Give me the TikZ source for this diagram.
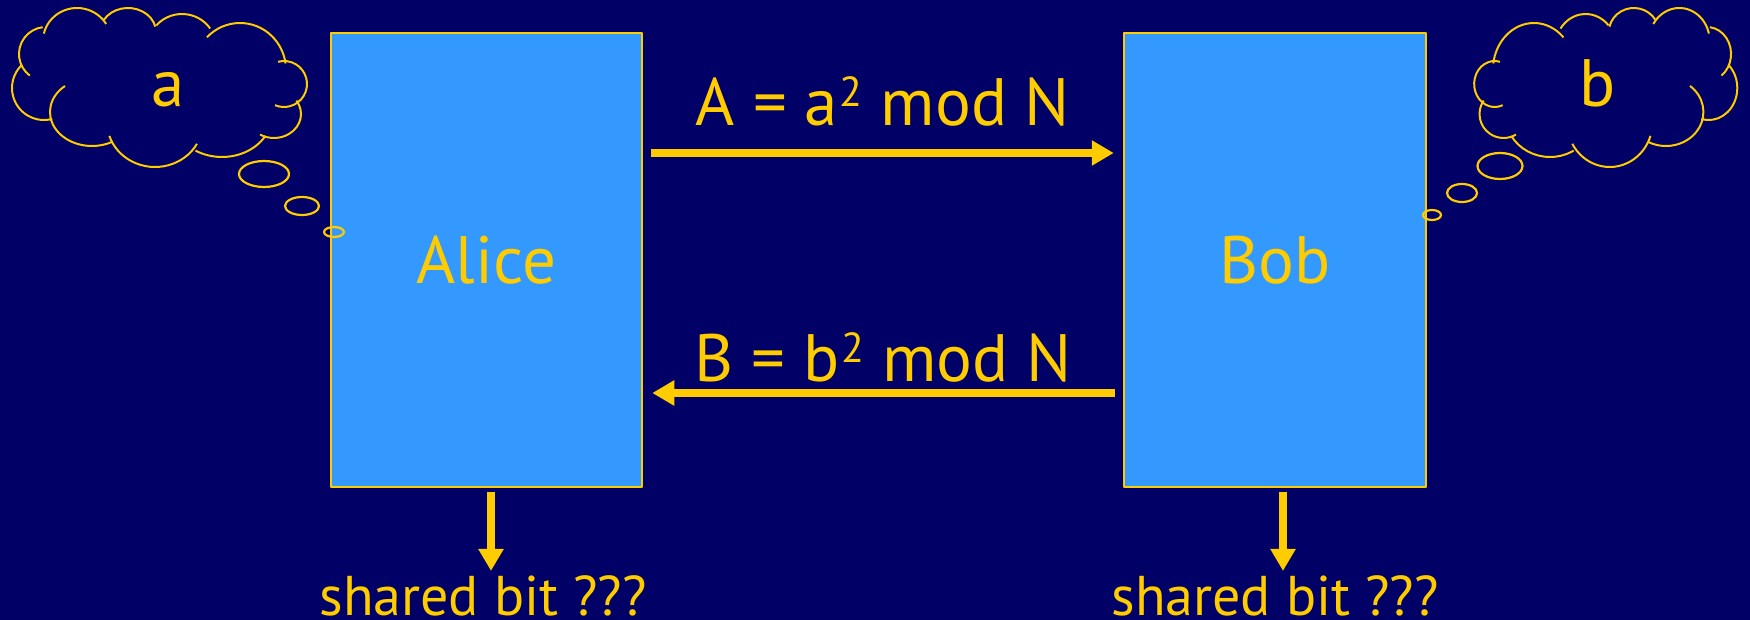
\documentclass[tikz,border=0pt]{standalone}
\usepackage{fontspec}
\setmainfont{PT Sans}
\usepackage{xcolor}
\usetikzlibrary{arrows.meta,calc}

\definecolor{slidebg}{RGB}{0,0,102}
\definecolor{boxblue}{RGB}{51,153,255}
\definecolor{gold}{RGB}{255,204,0}

% small raised square
\newcommand{\sqr}{\kern2pt\raisebox{19pt}{\fontsize{42}{44}\selectfont 2}}

% puffs of a thought cloud: centre x / centre y / x radius / y radius / start / end
\newcommand{\cloudpuffs}{46/54/27/27/127/263, 77/41/34/33/193/329, 128/32/28/24/211/347,
  182/47/34/33/221/326, 240/70/46/47/224/352, 284/84/23/23/255/473,
  274/114/27/24/326/481, 222/115/50/42/30/122, 155/122/48/45/29/162,
  92/112/42/34/62/230, 44/88/32/32/75/226}

\begin{document}
\begin{tikzpicture}[x=1pt,y=-1pt,line join=round,
  party/.style={draw=gold,line width=2.5pt,fill=boxblue,text=gold,inner sep=0pt,
    minimum width=311pt,minimum height=454pt,font=\fontsize{67}{80}\selectfont},
  msg/.style={draw=gold,line width=8pt,-{Triangle[length=22pt,width=24pt]}},
  msgtext/.style={text=gold,inner sep=3pt,font=\fontsize{67}{80}\selectfont},
  bit/.style={text=gold,inner sep=0pt,anchor=base,font=\fontsize{56}{60}\selectfont},
  secret/.style={text=gold,inner sep=0pt,anchor=base,font=\fontsize{67}{80}\selectfont},
  cloudline/.style={draw=gold,line width=2pt}]
  \fill[slidebg] (0,0) rectangle (1750,620);
  \useasboundingbox (0,0) rectangle (1750,620);

  % the two parties
  \node[party] (alice) at (486.5,260) {Alice};
  \node[party,minimum width=302pt] (bob) at (1275,260) {Bob};

  % exchanged values
  \draw[msg,shorten <=8pt,shorten >=9pt] ([yshift=107pt]alice.east) --
    node[msgtext,above=20pt] (msga) {A = a\sqr{} mod N} ([yshift=107pt]bob.west);
  \draw[msg,shorten <=8pt,shorten >=9pt] ([yshift=-133pt]bob.west) --
    node[msgtext,above=4pt] (msgb) {B = b\sqr{} mod N} ([yshift=-133pt]alice.east);

  % results
  \node[bit] (alicebit) at (483,615) {shared bit ???};
  \node[bit] (bobbit) at (1275,615) {shared bit ???};
  \draw[msg,shorten <=4pt,shorten >=4pt] ($(alice.south)+(4.5,0)$) -- ($(alice.south |- alicebit.north)+(4.5,0)$);
  \draw[msg,shorten <=4pt,shorten >=4pt] ($(bob.south)+(8,0)$) -- ($(bob.south |- bobbit.north)+(8,0)$);

  % thought clouds
  \foreach \cx/\cy/\rx/\ry/\sa/\ea in \cloudpuffs
    \draw[cloudline] (\cx,\cy) ++({\rx*cos(\sa)},{\ry*sin(\sa)}) arc[start angle=\sa,end angle=\ea,x radius=\rx,y radius=\ry];
  \begin{scope}[shift={(1748,0)},xscale=-0.892]
    \foreach \cx/\cy/\rx/\ry/\sa/\ea in \cloudpuffs
      \draw[cloudline] (\cx,\cy) ++({\rx*cos(\sa)},{\ry*sin(\sa)}) arc[start angle=\sa,end angle=\ea,x radius=\rx,y radius=\ry];
  \end{scope}
  \node[secret] (seca) at (168,107) {a};
  \node[secret] (secb) at (1598,107) {b};

  % trailing bubbles
  \draw[cloudline,line width=2.2pt] (264,174) ellipse[x radius=25,y radius=13];
  \draw[cloudline,line width=2.2pt] (302,206) ellipse[x radius=17,y radius=9];
  \draw[cloudline,line width=2.2pt] (334,232) ellipse[x radius=10,y radius=5];
  \draw[cloudline,line width=2.2pt] (1500,166) ellipse[x radius=22.5,y radius=13];
  \draw[cloudline,line width=2.2pt] (1462,193) ellipse[x radius=15,y radius=9];
  \draw[cloudline,line width=2.2pt] (1432,215) ellipse[x radius=9,y radius=5];
\end{tikzpicture}
\end{document}
